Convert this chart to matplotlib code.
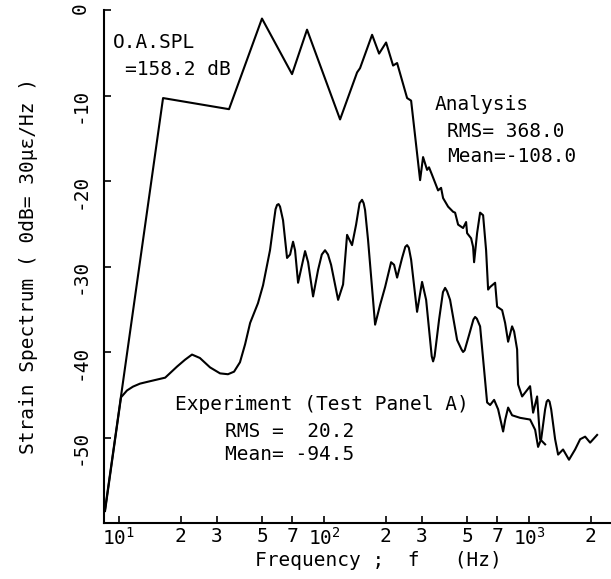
import numpy as np
import matplotlib.pyplot as plt

plt.rcParams['font.family'] = ['DejaVu Sans Mono', 'DejaVu Sans']
plt.rcParams['font.size'] = 14
plt.rcParams['axes.unicode_minus'] = False
plt.rcParams['mathtext.fontset'] = 'custom'
plt.rcParams['mathtext.rm'] = 'DejaVu Sans Mono'

# analysis curve (Hz, dB)
ana_freq = [8.55, 16.4, 34.4, 49.8, 69.8, 82.6, 119.7, 144.9, 149.8, 171.5,
            185.5, 200.7, 217.1, 227.1, 254.1, 265.8, 294.0, 304.0, 318.0, 325.0,
            336.4, 359.8, 372.1, 380.6, 402.6, 425.9, 435.5, 450.5, 476.4, 492.8,
            498.4, 521.3, 533.1, 539.1, 557.6, 576.7, 596.5, 616.9, 631.0, 645.4,
            682.6, 698.2, 738.5, 763.8, 790.0, 826.0, 845.0, 874.0, 883.7, 924.5,
            1011.0, 1046.0, 1094.0, 1131.0, 1197.0]
ana_db = [-58.4, -10.3, -11.6, -1.0, -7.5, -2.3, -12.8, -7.3, -6.8, -2.9,
          -5.1, -3.8, -6.5, -6.2, -10.3, -10.6, -19.9, -17.2, -18.7, -18.4,
          -19.3, -21.1, -20.8, -22.0, -23.0, -23.6, -23.7, -25.1, -25.5, -24.8,
          -26.1, -26.7, -27.7, -29.5, -26.1, -23.7, -24.0, -28.1, -32.7, -32.4,
          -31.9, -34.7, -35.1, -36.6, -38.8, -37.0, -37.6, -39.7, -43.8, -45.2,
          -44.0, -47.1, -45.2, -50.2, -50.8]

# experiment curve (Hz, dB)
exp_freq = [8.55, 10.23, 10.94, 11.7, 12.66, 13.7, 16.8, 19.2, 21.0, 22.7,
            24.8, 27.8, 31.1, 34.0, 36.4, 38.9, 41.2, 43.6, 47.6, 50.4,
            54.5, 57.0, 58.0, 59.0, 60.0, 61.0, 63.1, 66.0, 68.3, 70.6,
            72.2, 74.7, 78.1, 80.8, 83.6, 88.4, 93.5, 97.5, 101.1, 104.5,
            108.2, 117.1, 123.8, 129.5, 136.9, 143.3, 149.0, 153.2, 156.0, 158.5,
            163.9, 177.4, 187.6, 198.5, 212.3, 219.5, 227.1, 240.2, 249.0, 254.1,
            259.0, 265.8, 284.2, 300.6, 314.6, 335.0, 340.2, 346.0, 363.9, 380.0,
            389.3, 398.0, 411.7, 445.6, 468.0, 476.4, 485.0, 509.7, 535.0, 545.3,
            556.0, 576.7, 603.4, 624.0, 645.4, 675.0, 706.0, 746.9, 765.0, 790.0,
            826.0, 903.6, 1011.0, 1070.0, 1106.0, 1145.0, 1197.0, 1218.0, 1238.0, 1258.0,
            1281.0, 1339.0, 1385.0, 1464.0, 1565.0, 1676.0, 1774.0, 1876.0, 1984.0, 2146.0]
exp_db = [-58.6, -45.3, -44.5, -44.05, -43.7, -43.5, -43.0, -41.7, -40.9, -40.3,
          -40.7, -41.8, -42.5, -42.6, -42.3, -41.2, -39.1, -36.6, -34.3, -32.2,
          -28.1, -24.6, -23.3, -22.8, -22.7, -23.0, -24.6, -29.0, -28.6, -27.1,
          -28.1, -31.9, -29.8, -28.2, -29.5, -33.5, -30.4, -28.6, -28.1, -28.6,
          -29.8, -33.9, -32.1, -26.3, -27.5, -25.1, -22.6, -22.2, -22.6, -23.4,
          -26.9, -36.8, -34.5, -32.4, -29.5, -29.8, -31.3, -29.0, -27.7, -27.5,
          -27.8, -29.2, -35.3, -31.8, -33.9, -40.5, -41.1, -40.5, -36.2, -33.0,
          -32.5, -32.9, -33.9, -38.6, -39.7, -40.0, -39.8, -38.0, -36.2, -35.9,
          -36.1, -37.0, -42.1, -45.9, -46.2, -45.6, -46.7, -49.3, -47.9, -46.5,
          -47.4, -47.7, -47.9, -49.1, -51.1, -50.2, -46.7, -45.8, -45.6, -45.8,
          -46.7, -50.2, -52.0, -51.4, -52.6, -51.4, -50.2, -49.9, -50.6, -49.7]

xticks = [10, 20, 30, 50, 70, 100, 200, 300, 500, 700, 1000, 2000]
xticklabels = [r'$\mathregular{10^1}$', '2', '3', '5', '7', r'$\mathregular{10^2}$',
               '2', '3', '5', '7', r'$\mathregular{10^3}$', '2']
yticks = [0, -10, -20, -30, -40, -50]

W, H = 611, 579
fig = plt.figure(figsize=(W / 100, H / 100), dpi=100)
ax = fig.add_axes([104 / W, 1 - 523 / H, 506 / W, 513 / H])

ax.plot(ana_freq, ana_db, color='black', lw=1.5)
ax.plot(exp_freq, exp_db, color='black', lw=1.5)

ax.set_xscale('log')
ax.set_xlim(8.45, 2480)
ax.set_ylim(-60, 0)
ax.set_xticks(xticks, xticklabels)
ax.xaxis.set_minor_locator(plt.NullLocator())
ax.set_yticks(yticks)

ax.spines['top'].set_visible(False)
ax.spines['right'].set_visible(False)
for s in ('left', 'bottom'):
    ax.spines[s].set_linewidth(1.5)

ax.tick_params(direction='in', length=5, width=1.2)
ax.tick_params(axis='x', pad=3)
ax.tick_params(axis='y', pad=10, labelrotation=90)

ax.set_xlabel('Frequency ;  f   (Hz)')
ax.xaxis.set_label_coords(0.5415, -0.055)
ax.set_ylabel('Strain Spectrum ( 0dB= 30με/Hz )')
ax.yaxis.set_label_coords(-0.13, 0.5)

# annotations: (text, x px, baseline px)
notes = [('O.A.SPL', 113, 48),
         ('=158.2 dB', 125, 75),
         ('Analysis', 435, 110),
         ('RMS= 368.0', 447, 137),
         ('Mean=-108.0', 447, 162),
         ('Experiment (Test Panel A)', 175, 410),
         ('RMS =  20.2', 225, 437),
         ('Mean= -94.5', 225, 460)]
for txt, px, py in notes:
    fig.text(px / W, 1 - py / H, txt, ha='left', va='baseline')

fig.savefig('out.png', dpi=100)
